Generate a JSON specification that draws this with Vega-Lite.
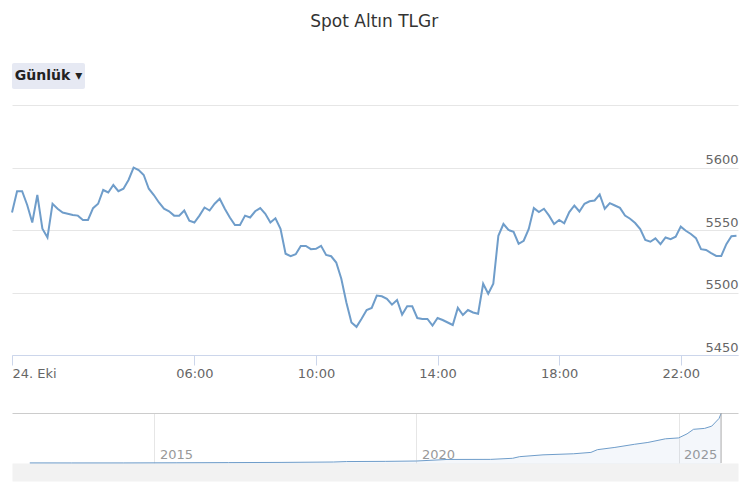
{
  "$schema": "https://vega.github.io/schema/vega-lite/v6.json",
  "padding": {"left": 8, "right": 8, "top": 13, "bottom": 10},
  "autosize": {"type": "pad"},
  "config": {
    "view": {"stroke": null},
    "font": "DejaVu Sans",
    "axis": {"labelFont": "DejaVu Sans", "titleFont": "DejaVu Sans"}
  },
  "title": {
    "text": "Spot Altın TLGr",
    "fontSize": 17,
    "fontWeight": "normal",
    "color": "#333333",
    "anchor": "middle",
    "offset": 32
  },
  "datasets": {
    "gold": [
      {"t": "2025-10-24 00:00", "v": 5564}, {"t": "2025-10-24 00:10", "v": 5581}, {"t": "2025-10-24 00:20", "v": 5581},
      {"t": "2025-10-24 00:30", "v": 5570}, {"t": "2025-10-24 00:40", "v": 5556}, {"t": "2025-10-24 00:50", "v": 5578},
      {"t": "2025-10-24 01:00", "v": 5551}, {"t": "2025-10-24 01:10", "v": 5544}, {"t": "2025-10-24 01:20", "v": 5571},
      {"t": "2025-10-24 01:30", "v": 5567}, {"t": "2025-10-24 01:40", "v": 5564}, {"t": "2025-10-24 01:50", "v": 5563},
      {"t": "2025-10-24 02:00", "v": 5562}, {"t": "2025-10-24 02:10", "v": 5561.5}, {"t": "2025-10-24 02:20", "v": 5558},
      {"t": "2025-10-24 02:30", "v": 5558}, {"t": "2025-10-24 02:40", "v": 5567.5}, {"t": "2025-10-24 02:50", "v": 5571},
      {"t": "2025-10-24 03:00", "v": 5582}, {"t": "2025-10-24 03:10", "v": 5580}, {"t": "2025-10-24 03:20", "v": 5586},
      {"t": "2025-10-24 03:30", "v": 5581}, {"t": "2025-10-24 03:40", "v": 5583}, {"t": "2025-10-24 03:50", "v": 5590},
      {"t": "2025-10-24 04:00", "v": 5600}, {"t": "2025-10-24 04:10", "v": 5598}, {"t": "2025-10-24 04:20", "v": 5594},
      {"t": "2025-10-24 04:30", "v": 5583}, {"t": "2025-10-24 04:40", "v": 5578}, {"t": "2025-10-24 04:50", "v": 5572},
      {"t": "2025-10-24 05:00", "v": 5567}, {"t": "2025-10-24 05:10", "v": 5565}, {"t": "2025-10-24 05:20", "v": 5561.5},
      {"t": "2025-10-24 05:30", "v": 5561.5}, {"t": "2025-10-24 05:40", "v": 5565.6}, {"t": "2025-10-24 05:50", "v": 5557.5},
      {"t": "2025-10-24 06:00", "v": 5556}, {"t": "2025-10-24 06:10", "v": 5561.5}, {"t": "2025-10-24 06:20", "v": 5568},
      {"t": "2025-10-24 06:30", "v": 5565.6}, {"t": "2025-10-24 06:40", "v": 5571}, {"t": "2025-10-24 06:50", "v": 5575},
      {"t": "2025-10-24 07:00", "v": 5567}, {"t": "2025-10-24 07:10", "v": 5560}, {"t": "2025-10-24 07:20", "v": 5554},
      {"t": "2025-10-24 07:30", "v": 5554}, {"t": "2025-10-24 07:40", "v": 5561.5}, {"t": "2025-10-24 07:50", "v": 5560},
      {"t": "2025-10-24 08:00", "v": 5565}, {"t": "2025-10-24 08:10", "v": 5567.5}, {"t": "2025-10-24 08:20", "v": 5563},
      {"t": "2025-10-24 08:30", "v": 5556}, {"t": "2025-10-24 08:40", "v": 5559.4}, {"t": "2025-10-24 08:50", "v": 5551},
      {"t": "2025-10-24 09:00", "v": 5531}, {"t": "2025-10-24 09:10", "v": 5529}, {"t": "2025-10-24 09:20", "v": 5530.6},
      {"t": "2025-10-24 09:30", "v": 5537.3}, {"t": "2025-10-24 09:40", "v": 5537.3}, {"t": "2025-10-24 09:50", "v": 5534.7},
      {"t": "2025-10-24 10:00", "v": 5535}, {"t": "2025-10-24 10:10", "v": 5537.3}, {"t": "2025-10-24 10:20", "v": 5530},
      {"t": "2025-10-24 10:30", "v": 5529}, {"t": "2025-10-24 10:40", "v": 5524}, {"t": "2025-10-24 10:50", "v": 5511},
      {"t": "2025-10-24 11:00", "v": 5492}, {"t": "2025-10-24 11:10", "v": 5476}, {"t": "2025-10-24 11:20", "v": 5472.5},
      {"t": "2025-10-24 11:30", "v": 5479}, {"t": "2025-10-24 11:40", "v": 5486}, {"t": "2025-10-24 11:50", "v": 5487.6},
      {"t": "2025-10-24 12:00", "v": 5497.6}, {"t": "2025-10-24 12:10", "v": 5497}, {"t": "2025-10-24 12:20", "v": 5495},
      {"t": "2025-10-24 12:30", "v": 5490.3}, {"t": "2025-10-24 12:40", "v": 5494}, {"t": "2025-10-24 12:50", "v": 5482.3},
      {"t": "2025-10-24 13:00", "v": 5489}, {"t": "2025-10-24 13:10", "v": 5489}, {"t": "2025-10-24 13:20", "v": 5479.6},
      {"t": "2025-10-24 13:30", "v": 5478.8}, {"t": "2025-10-24 13:40", "v": 5478.8}, {"t": "2025-10-24 13:50", "v": 5473.6},
      {"t": "2025-10-24 14:00", "v": 5479.6}, {"t": "2025-10-24 14:10", "v": 5478}, {"t": "2025-10-24 14:20", "v": 5476},
      {"t": "2025-10-24 14:30", "v": 5474}, {"t": "2025-10-24 14:40", "v": 5487.7}, {"t": "2025-10-24 14:50", "v": 5482},
      {"t": "2025-10-24 15:00", "v": 5486}, {"t": "2025-10-24 15:10", "v": 5484}, {"t": "2025-10-24 15:20", "v": 5483},
      {"t": "2025-10-24 15:30", "v": 5507}, {"t": "2025-10-24 15:40", "v": 5499}, {"t": "2025-10-24 15:50", "v": 5507},
      {"t": "2025-10-24 16:00", "v": 5545.4}, {"t": "2025-10-24 16:10", "v": 5554.8}, {"t": "2025-10-24 16:20", "v": 5550},
      {"t": "2025-10-24 16:30", "v": 5548.6}, {"t": "2025-10-24 16:40", "v": 5539}, {"t": "2025-10-24 16:50", "v": 5541.4},
      {"t": "2025-10-24 17:00", "v": 5550.8}, {"t": "2025-10-24 17:10", "v": 5567.5}, {"t": "2025-10-24 17:20", "v": 5564.3},
      {"t": "2025-10-24 17:30", "v": 5567}, {"t": "2025-10-24 17:40", "v": 5561.5}, {"t": "2025-10-24 17:50", "v": 5554.8},
      {"t": "2025-10-24 18:00", "v": 5558}, {"t": "2025-10-24 18:10", "v": 5555.4}, {"t": "2025-10-24 18:20", "v": 5564.3},
      {"t": "2025-10-24 18:30", "v": 5569.6}, {"t": "2025-10-24 18:40", "v": 5564.8}, {"t": "2025-10-24 18:50", "v": 5571},
      {"t": "2025-10-24 19:00", "v": 5573}, {"t": "2025-10-24 19:10", "v": 5573.6}, {"t": "2025-10-24 19:20", "v": 5578.5},
      {"t": "2025-10-24 19:30", "v": 5567}, {"t": "2025-10-24 19:40", "v": 5571.5}, {"t": "2025-10-24 19:50", "v": 5569.6},
      {"t": "2025-10-24 20:00", "v": 5567.7}, {"t": "2025-10-24 20:10", "v": 5561.5}, {"t": "2025-10-24 20:20", "v": 5559},
      {"t": "2025-10-24 20:30", "v": 5555.6}, {"t": "2025-10-24 20:40", "v": 5550.8}, {"t": "2025-10-24 20:50", "v": 5542},
      {"t": "2025-10-24 21:00", "v": 5540.6}, {"t": "2025-10-24 21:10", "v": 5543.3}, {"t": "2025-10-24 21:20", "v": 5538.7},
      {"t": "2025-10-24 21:30", "v": 5544}, {"t": "2025-10-24 21:40", "v": 5542.7}, {"t": "2025-10-24 21:50", "v": 5544.6},
      {"t": "2025-10-24 22:00", "v": 5552.7}, {"t": "2025-10-24 22:10", "v": 5549.4}, {"t": "2025-10-24 22:20", "v": 5546.8},
      {"t": "2025-10-24 22:30", "v": 5543.5}, {"t": "2025-10-24 22:40", "v": 5534.7}, {"t": "2025-10-24 22:50", "v": 5534},
      {"t": "2025-10-24 23:00", "v": 5531.5}, {"t": "2025-10-24 23:10", "v": 5529.3}, {"t": "2025-10-24 23:20", "v": 5529.3},
      {"t": "2025-10-24 23:30", "v": 5538.7}, {"t": "2025-10-24 23:40", "v": 5545}, {"t": "2025-10-24 23:50", "v": 5545.4}
    ],
    "history": [
      {"d": "2012-08-15", "p": 92}, {"d": "2013-06-01", "p": 88}, {"d": "2014-06-01", "p": 90},
      {"d": "2015-06-01", "p": 105}, {"d": "2016-06-01", "p": 125}, {"d": "2017-06-01", "p": 145},
      {"d": "2018-06-01", "p": 190}, {"d": "2018-09-01", "p": 240}, {"d": "2019-06-01", "p": 260},
      {"d": "2020-01-01", "p": 300}, {"d": "2020-08-01", "p": 470}, {"d": "2021-06-01", "p": 480},
      {"d": "2021-11-01", "p": 600}, {"d": "2021-12-20", "p": 780}, {"d": "2022-06-01", "p": 980},
      {"d": "2023-01-01", "p": 1100}, {"d": "2023-05-01", "p": 1250}, {"d": "2023-06-15", "p": 1550},
      {"d": "2023-10-15", "p": 1800}, {"d": "2024-03-01", "p": 2150}, {"d": "2024-06-01", "p": 2350},
      {"d": "2024-10-01", "p": 2750}, {"d": "2025-01-01", "p": 2850}, {"d": "2025-03-01", "p": 3300},
      {"d": "2025-04-15", "p": 3800}, {"d": "2025-07-01", "p": 3900}, {"d": "2025-08-20", "p": 4150},
      {"d": "2025-10-10", "p": 5000}, {"d": "2025-10-24", "p": 5545}
    ],
    "button": [{"label": "Günlük ▾"}],
    "range": [{"d": "2025-10-24"}]
  },
  "spacing": 31,
  "vconcat": [
    {
      "spacing": 16,
      "vconcat": [
        {
          "width": 73,
          "height": 26,
          "data": {"name": "button"},
          "layer": [
            {
              "mark": {"type": "rect", "color": "#e6e9f3", "cornerRadius": 2},
              "encoding": {
                "x": {"field": "label", "type": "nominal", "axis": null, "scale": {"paddingInner": 0, "paddingOuter": 0}}
              }
            },
            {
              "mark": {"type": "text", "font": "DejaVu Sans", "fontSize": 14, "fontWeight": "bold", "color": "#222222"},
              "encoding": {
                "x": {"field": "label", "type": "nominal", "axis": null},
                "text": {"field": "label"}
              }
            }
          ]
        },
        {
          "width": 726,
          "height": 250,
          "data": {"name": "gold", "format": {"parse": {"t": "utc:'%Y-%m-%d %H:%M'"}}},
          "mark": {"type": "line", "color": "#6f9dca", "strokeWidth": 2},
          "encoding": {
            "x": {
              "field": "t",
              "type": "temporal",
              "title": null,
              "scale": {
                "type": "utc",
                "domain": [
                  {"year": 2025, "month": "Oct", "date": 24, "hours": 0, "minutes": 0, "utc": true},
                  {"year": 2025, "month": "Oct", "date": 24, "hours": 23, "minutes": 53, "utc": true}
                ]
              },
              "axis": {
                "values": [
                  {"year": 2025, "month": "Oct", "date": 24, "hours": 0, "utc": true},
                  {"year": 2025, "month": "Oct", "date": 24, "hours": 6, "utc": true},
                  {"year": 2025, "month": "Oct", "date": 24, "hours": 10, "utc": true},
                  {"year": 2025, "month": "Oct", "date": 24, "hours": 14, "utc": true},
                  {"year": 2025, "month": "Oct", "date": 24, "hours": 18, "utc": true},
                  {"year": 2025, "month": "Oct", "date": 24, "hours": 22, "utc": true}
                ],
                "labelExpr": "utcFormat(datum.value, '%H:%M') == '00:00' ? '24. Eki' : utcFormat(datum.value, '%H:%M')",
                "grid": false,
                "domainColor": "#ccd6eb",
                "tickColor": "#ccd6eb",
                "tickSize": 10,
                "labelPadding": 2,
                "labelFontSize": 13,
                "labelColor": "#666666",
                "labelFlush": true,
                "labelOverlap": false
              }
            },
            "y": {
              "field": "v",
              "type": "quantitative",
              "title": null,
              "scale": {"domain": [5450, 5650], "nice": false, "zero": false},
              "axis": {
                "orient": "right",
                "values": [5450, 5500, 5550, 5600, 5650],
                "format": "d",
                "labelExpr": "datum.value == 5650 ? '' : datum.label",
                "grid": true,
                "gridColor": "#e6e6e6",
                "domain": false,
                "ticks": false,
                "tickSize": 0,
                "labelPadding": 0,
                "labelAlign": "right",
                "labelBaseline": "bottom",
                "labelOffset": -1,
                "labelFontSize": 13,
                "labelColor": "#666666"
              }
            }
          }
        }
      ]
    },
    {
      "width": 726,
      "height": 50,
      "layer": [
        {
          "data": {"name": "history", "format": {"parse": {"d": "utc:'%Y-%m-%d'"}}},
          "mark": {"type": "area", "color": "#6f9dca", "fillOpacity": 0.08, "line": {"color": "#6f9dca", "strokeWidth": 1}},
          "encoding": {
            "x": {
              "field": "d",
              "type": "temporal",
              "title": null,
              "scale": {
                "type": "utc",
                "domain": [
                  {"year": 2012, "month": "Apr", "date": 13, "utc": true},
                  {"year": 2026, "month": "Feb", "date": 19, "utc": true}
                ]
              },
              "axis": {
                "orient": "top",
                "values": [
                  {"year": 2015, "month": "Jan", "date": 1, "utc": true},
                  {"year": 2020, "month": "Jan", "date": 1, "utc": true},
                  {"year": 2025, "month": "Jan", "date": 1, "utc": true}
                ],
                "format": "%Y",
                "formatType": "utc",
                "grid": true,
                "gridColor": "#e6e6e6",
                "domain": true,
                "domainColor": "#cccccc",
                "ticks": false,
                "tickSize": 0,
                "labelAlign": "left",
                "labelBaseline": "bottom",
                "labelPadding": -48,
                "labelOffset": 5,
                "labelFontSize": 13,
                "labelColor": "#999999",
                "labelFlush": false,
                "labelOverlap": false,
                "labelBound": false
              }
            },
            "y": {
              "field": "p",
              "type": "quantitative",
              "axis": null,
              "scale": {"domain": [80, 5600], "nice": false, "zero": false}
            }
          }
        },
        {
          "data": {"name": "range", "format": {"parse": {"d": "utc:'%Y-%m-%d'"}}},
          "mark": {"type": "rule", "color": "#aaaaaa", "strokeWidth": 1},
          "encoding": {
            "x": {
              "field": "d",
              "type": "temporal",
              "title": null,
              "axis": {
                "orient": "bottom",
                "offset": 9,
                "title": null,
                "values": [
                  {"year": 2012, "month": "Jun", "date": 15, "utc": true},
                  {"year": 2025, "month": "Dec", "date": 18, "utc": true}
                ],
                "labels": false,
                "domainColor": "#f2f2f2",
                "domainWidth": 18,
                "ticks": false,
                "tickSize": 0,
                "grid": false
              }
            }
          }
        }
      ],
      "resolve": {"axis": {"x": "independent"}}
    }
  ]
}
